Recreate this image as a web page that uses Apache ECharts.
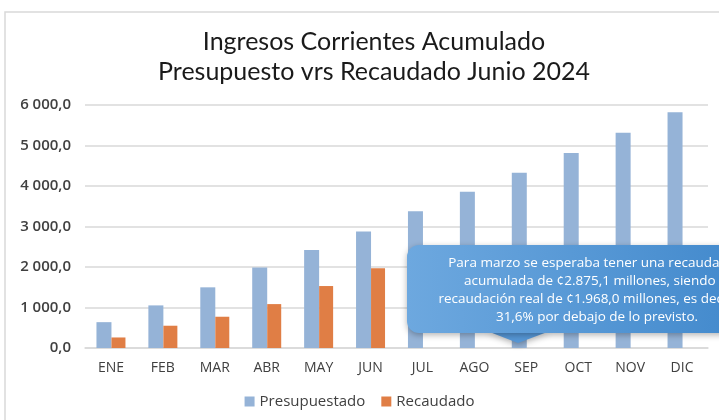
<!DOCTYPE html>
<html>
<head>
<meta charset="utf-8">
<script src="https://cdn.jsdelivr.net/npm/echarts@6/dist/echarts.min.js"></script>
<style>
  html, body { margin: 0; padding: 0; background: #fff; }
  #chart { width: 719px; height: 420px; }
</style>
</head>
<body>
<div id="chart"></div>
<script>
// datos
var meses = ['ENE', 'FEB', 'MAR', 'ABR', 'MAY', 'JUN', 'JUL', 'AGO', 'SEP', 'OCT', 'NOV', 'DIC']
var presupuestado = [638, 1052, 1498, 1985, 2421, 2875.1, 3379, 3856, 4327, 4814, 5317, 5822]
var recaudado = [260, 550, 772, 1084, 1530, 1968.0]
var nota = [
  'Para marzo se esperaba tener una recaudación',
  'acumulada de ¢2.875,1 millones, siendo la',
  'recaudación real de ¢1.968,0 millones, es decir, un',
  '31,6% por debajo de lo previsto.'
]

function formato(v) {
  var s = v.toFixed(1).replace('.', ',')
  var partes = s.split(',')
  partes[0] = partes[0].replace(/\B(?=(\d{3})+(?!\d))/g, ' ')
  return partes.join(',')
}

var chart = echarts.init(document.getElementById('chart'))

chart.setOption({
  backgroundColor: '#fff',
  animation: false,
  title: {
    text: 'Ingresos Corrientes Acumulado\nPresupuesto vrs Recaudado Junio 2024',
    left: 369,
    top: 22,
    textAlign: 'center',
    textStyle: {
      fontFamily: 'Lato',
      fontWeight: 'normal',
      fontSize: 25,
      lineHeight: 30,
      color: '#1a1a1a'
    }
  },
  legend: {
    bottom: 6,
    left: 'center',
    icon: 'rect',
    itemWidth: 10,
    itemHeight: 10,
    itemGap: 16,
    data: ['Presupuestado', 'Recaudado'],
    textStyle: {
      fontFamily: 'Open Sans',
      fontSize: 15,
      color: '#404040'
    }
  },
  grid: {
    left: 85,
    right: 11,
    top: 105,
    bottom: 72
  },
  xAxis: {
    type: 'category',
    data: meses,
    axisLine: { lineStyle: { color: '#D9D9D9', width: 1.5 } },
    axisTick: { show: false },
    axisLabel: {
      margin: 13,
      fontFamily: 'Open Sans',
      fontSize: 14,
      color: '#404040'
    }
  },
  yAxis: {
    type: 'value',
    min: 0,
    max: 6000,
    interval: 1000,
    axisLine: { show: false },
    axisTick: { show: false },
    axisLabel: {
      margin: 14,
      fontFamily: 'Open Sans',
      fontWeight: 600,
      fontSize: 15,
      color: '#404040',
      formatter: formato
    },
    splitLine: { lineStyle: { color: '#D9D9D9', width: 1.5 } }
  },
  series: [{
    name: 'Presupuestado',
    type: 'bar',
    barWidth: 15,
    barGap: '0%',
    itemStyle: { color: '#95B3D7' },
    data: presupuestado
  }, {
    name: 'Recaudado',
    type: 'bar',
    barWidth: 14,
    itemStyle: { color: '#E07E45' },
    data: recaudado
  }],
  graphic: [{
    // marco del grafico
    type: 'polyline',
    silent: true,
    shape: { points: [[5, 420], [5, 12], [719, 12]] },
    style: { stroke: '#D9D9D9', lineWidth: 1.5, fill: null }
  }, {
    // globo de comentario
    type: 'group',
    x: 407,
    y: 245,
    z: 100,
    children: [{
      type: 'polygon',
      z: 100,
      shape: { points: [[80, 86], [111, 98], [143, 86]] },
      style: {
        fill: '#5596D5',
        shadowBlur: 6,
        shadowOffsetY: 2,
        shadowColor: 'rgba(0,0,0,0.3)'
      }
    }, {
      type: 'rect',
      z: 100,
      shape: { x: 0, y: 0, width: 360, height: 88, r: 12 },
      style: {
        fill: new echarts.graphic.LinearGradient(0, 0, 1, 0, [
          { offset: 0, color: '#6DA8DF' },
          { offset: 1, color: '#3F87CB' }
        ]),
        shadowBlur: 6,
        shadowOffsetY: 2,
        shadowColor: 'rgba(0,0,0,0.3)'
      }
    }, {
      type: 'text',
      z: 101,
      x: 190,
      y: 9,
      style: {
        text: nota.join('\n'),
        align: 'center',
        fill: '#fff',
        font: '500 13.5px "Open Sans"',
        lineHeight: 18
      }
    }]
  }]
})
</script>
</body>
</html>
